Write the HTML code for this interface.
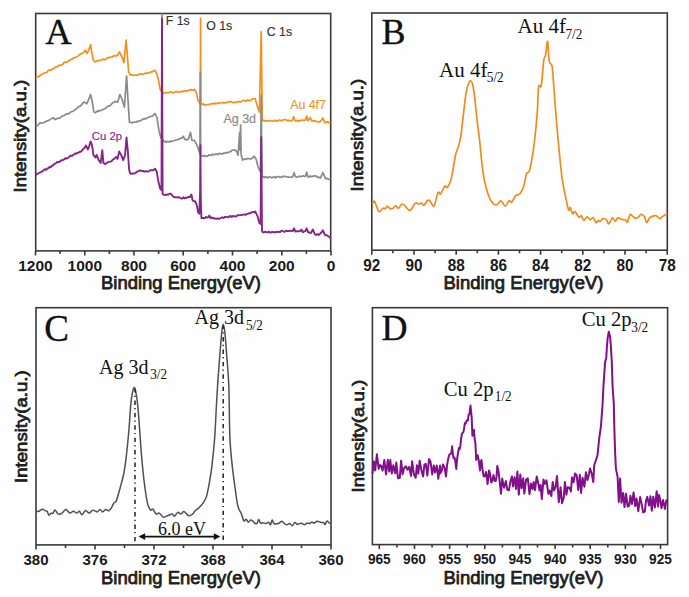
<!DOCTYPE html>
<html><head><meta charset="utf-8"><style>html,body{margin:0;padding:0;background:#fefefe;overflow:hidden}svg{display:block}</style></head><body>
<svg width="689" height="597" viewBox="0 0 689 597">
<rect width="689" height="597" fill="#fefefe"/>
<g fill="none" stroke="#3a3a3a" stroke-width="1.6">
<rect x="35.7" y="13.5" width="295" height="237.4"/>
<rect x="371.8" y="13" width="295.5" height="237.2"/>
<rect x="36" y="307.7" width="295" height="237.2"/>
<rect x="372.4" y="307.7" width="295.2" height="236.9"/>
<path d="M35.5 250.9V255.4M84.8 250.9V255.4M134.0 250.9V255.4M183.2 250.9V255.4M232.5 250.9V255.4M281.8 250.9V255.4M331.0 250.9V255.4M60.1 250.9V253.9M109.4 250.9V253.9M158.6 250.9V253.9M207.9 250.9V253.9M257.1 250.9V253.9M306.4 250.9V253.9M371.8 250.2V254.7M414.0 250.2V254.7M456.2 250.2V254.7M498.4 250.2V254.7M540.6 250.2V254.7M582.8 250.2V254.7M625.0 250.2V254.7M667.2 250.2V254.7M392.9 250.2V253.2M435.1 250.2V253.2M477.3 250.2V253.2M519.5 250.2V253.2M561.7 250.2V253.2M603.9 250.2V253.2M646.1 250.2V253.2M36.0 544.9V549.4M95.0 544.9V549.4M154.0 544.9V549.4M213.0 544.9V549.4M272.0 544.9V549.4M331.0 544.9V549.4M65.5 544.9V547.9M124.5 544.9V547.9M183.5 544.9V547.9M242.5 544.9V547.9M301.5 544.9V547.9M379.3 544.6V549.1M414.5 544.6V549.1M449.6 544.6V549.1M484.8 544.6V549.1M519.9 544.6V549.1M555.1 544.6V549.1M590.2 544.6V549.1M625.4 544.6V549.1M660.5 544.6V549.1M396.9 544.6V547.6M432.1 544.6V547.6M467.2 544.6V547.6M502.4 544.6V547.6M537.5 544.6V547.6M572.7 544.6V547.6M607.8 544.6V547.6M643.0 544.6V547.6"/>
</g>
<defs><clipPath id="cA"><rect x="35.7" y="13.5" width="295" height="237.4"/></clipPath></defs>
<g fill="none" stroke-linejoin="round" stroke-linecap="round">
<g clip-path="url(#cA)">
<polyline points="35.8,77.7 37.1,76.5 38.3,76.8 39.6,76.0 40.9,74.6 42.1,74.3 43.4,73.6 44.6,72.9 45.8,72.6 47.0,72.2 48.2,70.6 49.4,69.9 50.6,70.5 51.8,69.4 53.0,68.7 54.2,68.6 55.4,66.9 56.5,66.9 57.7,66.7 58.9,65.4 60.1,65.2 61.3,65.2 62.5,64.6 63.7,62.7 64.9,62.1 66.1,62.3 67.3,62.2 68.5,61.0 69.7,60.2 70.9,59.4 72.1,59.1 73.3,57.9 74.5,57.6 75.7,57.3 76.9,56.8 78.0,56.1 79.1,55.0 80.2,54.3 81.4,53.6 82.5,53.2 83.6,52.6 85.3,50.1 86.9,53.5 88.6,50.1 90.6,44.7 92.0,53.5 93.3,60.0 95.0,61.9 96.3,61.2 97.5,60.4 98.8,61.1 100.1,60.2 101.2,60.0 102.3,59.8 103.4,58.9 104.6,59.8 105.7,59.3 106.8,58.5 107.9,57.6 109.0,57.4 110.2,57.6 111.3,57.1 112.4,57.0 113.5,56.0 114.9,55.6 116.3,55.9 117.7,55.2 119.4,51.8 120.7,54.5 121.9,56.8 123.9,62.7 126.1,40.1 127.2,53.5 128.6,71.9 130.3,75.0 131.6,74.7 132.8,75.1 134.1,75.5 135.3,75.0 136.5,75.3 137.6,74.7 138.8,74.7 139.9,73.8 141.1,73.9 142.2,74.6 143.4,74.0 144.6,73.6 145.8,72.9 147.0,73.2 148.2,73.1 149.4,72.7 150.6,72.0 151.8,71.9 153.4,71.0 155.1,70.3 156.8,73.6 158.5,80.3 160.2,89.6 161.4,91.3 162.7,92.9 163.9,93.2 165.1,92.8 166.2,92.6 167.4,92.7 168.6,92.7 169.7,91.9 170.8,91.8 171.9,92.7 173.0,92.9 174.1,92.3 175.2,91.9 176.3,91.5 177.4,91.8 178.5,92.4 179.6,92.0 180.7,91.6 181.8,91.4 183.0,91.7 184.1,90.7 185.3,90.9 186.4,91.3 187.6,90.6 188.7,90.2 189.9,90.1 191.1,89.6 192.2,89.8 193.3,90.2 194.5,89.4 196.6,93.4 197.9,100.1 199.2,102.1 200.3,104.0 200.6,18.4 200.9,104.0 201.8,104.5 203.0,103.7 204.2,104.8 205.4,104.7 206.5,104.8 207.7,104.5 208.9,104.5 210.1,104.0 211.2,103.9 212.3,103.9 213.5,103.6 214.6,103.0 215.7,104.0 216.8,103.5 217.9,102.8 219.1,103.2 220.2,103.0 221.3,102.7 222.4,102.6 223.5,102.8 224.7,102.8 225.8,102.7 226.9,102.4 228.0,102.3 229.1,101.6 230.2,101.9 231.3,101.7 232.4,102.2 233.5,102.6 234.6,102.4 235.7,102.4 236.8,101.9 237.9,102.2 239.0,101.3 240.2,102.0 241.3,101.6 242.4,100.7 243.5,100.5 244.6,100.3 245.7,101.3 246.8,100.4 248.0,100.1 249.1,100.7 250.2,100.4 251.4,99.8 252.7,98.9 253.9,98.6 255.2,98.7 256.4,102.9 257.7,107.1 259.4,112.1 261.2,31.7 262.3,120.8 263.4,120.4 264.5,120.6 265.6,121.2 266.7,120.9 267.9,120.8 269.0,121.0 270.1,120.4 271.2,121.0 272.3,121.0 273.4,121.2 274.6,120.6 275.8,120.4 276.9,121.3 278.1,120.7 279.3,120.1 280.4,120.5 281.6,120.7 282.8,120.1 284.0,119.5 285.1,119.6 286.3,119.9 287.5,120.8 288.6,120.1 289.8,120.9 290.9,121.0 292.1,120.8 293.7,116.7 295.1,120.8 296.3,120.8 297.4,120.3 298.6,121.2 299.7,120.9 300.9,120.4 302.0,119.9 303.2,120.5 304.3,120.0 305.5,120.1 306.6,116.1 307.9,120.8 309.0,119.2 310.2,117.4 311.6,120.8 312.8,120.7 313.9,121.3 315.1,120.6 316.2,121.4 317.5,121.5 318.9,122.1 320.2,121.4 321.6,120.0 322.9,118.1 325.0,122.8 326.4,122.1 327.9,121.9 329.1,122.8 330.3,122.7" stroke="#F5901C" stroke-width="1.7"/>
<polyline points="35.8,125.5 37.0,125.6 38.2,125.1 39.3,123.4 40.5,122.9 41.7,123.0 42.8,123.1 43.9,122.5 45.0,122.0 46.2,121.1 47.3,121.1 48.4,120.5 49.8,119.8 51.2,118.9 52.6,117.9 53.9,118.3 55.1,119.6 56.2,119.0 57.3,118.4 58.5,118.3 59.6,118.1 60.7,117.5 61.8,116.3 62.9,115.9 64.0,115.4 65.2,114.7 66.3,114.0 67.4,113.6 68.5,113.8 69.6,113.1 70.7,112.1 71.8,111.5 73.0,111.5 74.1,110.3 75.2,109.6 76.5,108.8 77.7,107.5 79.0,106.4 80.2,106.2 81.6,104.6 83.0,102.9 84.4,102.0 85.7,102.9 86.9,103.7 88.9,98.7 90.6,94.5 92.3,102.0 93.6,110.4 94.2,112.2 95.4,112.6 96.6,111.8 97.7,110.7 98.9,111.4 100.1,110.5 101.2,110.4 102.3,109.7 103.4,109.4 104.6,108.7 105.7,108.2 106.8,107.2 108.0,106.1 109.3,106.2 110.5,105.3 111.8,103.8 112.9,102.5 114.1,102.5 115.2,101.3 116.5,102.0 117.7,102.1 118.8,98.3 119.9,94.6 121.9,98.8 123.2,103.0 124.4,107.2 126.6,76.1 127.8,97.1 129.4,122.3 130.8,122.3 132.2,122.9 133.6,122.3 134.9,122.0 136.2,122.1 137.4,121.1 138.7,121.5 140.0,120.6 141.1,120.6 142.3,119.4 143.4,118.9 144.6,118.6 145.8,118.8 147.0,118.1 148.2,117.5 149.4,116.7 150.6,116.5 151.8,116.4 153.4,115.2 155.1,113.5 157.0,117.5 159.0,130.9 161.0,138.3 161.8,138.5 162.0,10.0 162.2,139.0 163.7,141.7 164.9,141.2 166.1,142.3 167.2,141.4 168.4,141.7 169.5,142.0 170.6,141.0 171.8,141.6 172.9,141.1 174.0,140.5 175.1,140.3 176.2,140.0 177.3,139.8 178.4,139.4 179.6,138.7 180.7,138.2 181.8,138.3 183.2,136.3 185.2,139.7 186.3,139.5 187.4,139.8 188.5,139.0 190.5,132.3 191.9,140.3 193.2,140.5 194.5,140.3 196.6,144.3 198.6,149.7 199.9,153.7 200.3,72.0 200.7,156.0 202.6,156.2 203.9,155.4 205.1,156.3 206.4,156.0 207.7,156.1 208.9,154.9 210.2,155.2 211.4,155.4 212.6,154.2 213.9,154.9 215.1,154.2 216.3,153.9 217.6,154.7 218.8,153.4 220.0,153.8 221.2,153.7 222.5,154.0 223.8,153.0 225.0,153.2 226.2,152.4 227.5,153.0 228.8,152.0 230.0,151.7 231.1,151.5 232.2,150.0 233.4,150.0 234.5,149.7 236.6,151.2 238.1,155.2 239.6,132.6 240.1,150.0 240.6,125.0 241.1,154.2 242.6,160.2 243.8,159.2 245.1,159.2 246.4,159.3 247.8,158.3 249.1,158.7 250.6,159.1 252.1,158.2 254.1,156.2 256.2,159.2 257.7,165.3 259.0,169.3 260.5,172.0 261.2,95.4 262.0,177.4 263.1,176.7 264.3,177.7 265.4,176.7 266.6,177.1 267.7,177.8 268.8,176.9 270.0,177.0 271.1,177.7 272.3,177.2 273.4,177.4 274.5,176.7 275.6,178.0 276.8,176.7 277.9,176.5 279.0,176.9 280.1,177.2 281.2,177.3 282.3,176.4 283.4,176.6 284.6,176.2 285.7,176.7 286.8,176.7 288.0,177.1 289.2,177.0 290.4,177.3 291.6,177.1 292.8,176.7 294.1,172.7 295.5,176.7 296.6,177.2 297.7,176.9 298.8,176.5 299.9,176.1 301.1,176.7 302.2,176.2 303.3,175.8 304.4,176.3 305.5,176.3 306.6,172.1 307.9,176.7 309.1,177.1 310.3,176.0 311.5,176.6 312.6,176.2 313.8,176.3 315.0,175.7 316.2,176.1 317.6,177.4 318.9,177.1 320.3,178.1 321.6,175.5 322.9,172.7 324.2,175.6 325.6,178.7 327.0,178.4 328.3,179.4 330.3,178.7" stroke="#8a8a8a" stroke-width="1.7"/>
<polyline points="35.7,174.9 36.9,173.9 38.1,173.6 39.3,172.7 40.5,172.4 41.7,171.6 42.8,171.2 43.9,169.9 45.0,169.2 46.2,169.8 47.3,168.4 48.4,168.2 49.5,167.0 50.6,167.3 51.8,165.8 52.9,165.5 54.0,164.3 55.1,163.5 56.2,163.1 57.3,161.9 58.5,162.0 59.6,161.8 60.7,160.8 61.8,160.2 62.9,160.1 64.0,159.5 65.2,158.2 66.3,158.8 67.4,158.1 68.5,157.5 69.6,156.6 70.7,155.5 71.8,156.0 73.0,154.8 74.1,154.5 75.2,153.5 76.3,153.6 77.4,152.9 78.6,152.7 79.7,151.6 80.8,151.7 81.9,150.8 83.2,148.9 84.6,147.8 85.9,145.4 87.9,149.5 89.2,146.0 90.6,141.4 91.3,142.8 92.3,146.8 93.4,154.9 95.4,157.5 96.7,154.9 98.7,160.2 100.7,162.9 102.3,150.2 103.4,162.9 105.4,164.2 106.6,163.0 107.8,162.4 108.9,161.9 110.1,161.6 111.4,161.4 112.8,159.7 114.1,158.9 116.1,156.9 117.5,158.9 119.2,151.5 121.1,154.9 123.2,160.2 125.1,154.9 126.5,137.4 127.8,150.8 129.1,169.6 130.2,173.6 131.5,173.8 132.9,173.3 134.2,173.6 135.4,173.0 136.5,172.1 137.7,171.4 138.8,171.1 140.0,170.3 141.1,170.6 142.2,171.2 143.3,171.0 144.5,171.5 145.6,171.5 146.7,171.2 148.0,171.7 149.2,171.0 150.5,170.1 151.8,170.3 153.4,170.0 155.1,168.7 156.8,172.0 158.5,182.1 160.2,188.8 161.5,190.0 162.0,18.8 162.6,193.8 163.9,194.9 165.2,194.7 166.4,195.1 167.6,194.4 168.7,194.5 169.9,193.6 171.1,193.8 172.8,196.3 174.1,197.2 175.3,197.2 176.5,197.5 177.7,197.2 178.8,197.1 180.0,197.9 181.1,198.4 182.2,198.6 183.3,197.3 184.5,198.3 185.6,197.8 186.7,197.9 187.8,197.1 188.9,197.0 190.0,197.0 191.4,194.5 192.6,200.4 193.8,201.2 195.1,201.2 196.8,205.4 198.1,212.1 199.3,213.8 200.1,192.0 200.4,145.1 200.8,200.0 201.4,218.0 203.5,218.0 204.8,218.3 206.0,216.9 207.2,217.5 208.5,217.1 209.3,215.5 210.5,218.0 211.7,217.4 212.9,218.4 214.1,217.9 215.2,218.7 216.4,218.9 217.6,218.3 218.8,219.0 220.0,218.4 221.2,217.9 222.3,217.4 223.5,218.0 224.7,217.0 225.9,217.0 227.1,217.1 228.2,217.2 229.4,216.4 230.6,216.0 231.8,217.0 232.9,216.0 234.1,216.1 235.3,216.5 236.4,216.3 237.6,215.3 238.8,215.2 239.9,215.1 241.1,215.1 242.3,214.8 243.4,214.6 244.6,214.5 245.8,214.7 246.9,213.9 248.1,213.7 249.3,213.2 250.5,213.2 251.6,212.2 252.8,211.9 254.0,212.5 255.2,211.4 256.4,213.8 257.5,216.1 259.4,223.1 260.6,224.0 261.2,137.1 262.0,231.0 262.7,232.3 263.9,232.4 265.1,231.6 266.3,232.2 267.5,232.4 268.6,231.6 269.8,232.5 271.0,232.5 272.2,231.7 273.4,232.3 274.5,232.4 275.6,232.0 276.8,232.2 277.9,231.7 279.0,232.0 280.1,232.0 281.2,230.9 282.3,230.8 283.4,231.6 284.6,231.9 285.7,230.8 286.8,231.0 288.0,230.9 289.2,231.1 290.4,230.7 291.6,230.8 292.8,231.0 294.1,228.3 295.5,231.6 296.7,231.2 297.9,231.1 299.0,231.3 300.2,231.0 301.5,229.6 302.9,232.3 304.2,231.4 305.5,231.0 306.6,228.3 308.2,232.3 309.5,232.5 310.9,233.0 312.9,229.6 314.9,234.3 316.2,234.9 317.6,234.1 318.9,235.0 320.2,233.5 321.6,232.2 322.9,230.3 325.0,235.0 326.1,235.2 327.2,235.5 328.3,236.3 330.3,237.7" stroke="#86258a" stroke-width="1.9"/>
</g>
<path d="M372.60,203.50C372.90,203.13 373.75,200.87 374.40,201.30C375.05,201.73 375.72,204.35 376.50,206.10C377.28,207.85 378.00,211.43 379.10,211.80C380.20,212.17 382.08,208.82 383.10,208.30C384.12,207.78 384.48,209.07 385.20,208.70C385.92,208.33 386.60,206.10 387.40,206.10C388.20,206.10 389.05,208.33 390.00,208.70C390.95,209.07 392.15,208.80 393.10,208.30C394.05,207.80 394.83,205.70 395.70,205.70C396.57,205.70 397.22,208.58 398.30,208.30C399.38,208.02 400.97,204.28 402.20,204.00C403.43,203.72 404.38,205.52 405.70,206.60C407.02,207.68 408.50,211.08 410.10,210.50C411.70,209.92 413.85,204.18 415.30,203.10C416.75,202.02 417.78,204.00 418.80,204.00C419.82,204.00 420.53,202.88 421.40,203.10C422.27,203.32 422.98,205.73 424.00,205.30C425.02,204.87 426.50,201.25 427.50,200.50C428.50,199.75 428.92,199.87 430.00,200.80C431.08,201.73 432.67,207.45 434.00,206.10C435.33,204.75 436.88,194.72 438.00,192.70C439.12,190.68 439.58,195.12 440.70,194.00C441.82,192.88 443.58,187.12 444.70,186.00C445.82,184.88 446.28,188.63 447.40,187.30C448.52,185.97 450.05,183.35 451.40,178.00C452.75,172.65 454.37,160.35 455.50,155.20C456.63,150.05 457.32,150.23 458.20,147.10C459.08,143.97 459.92,141.98 460.80,136.40C461.68,130.82 462.60,120.97 463.50,113.60C464.40,106.23 465.30,97.33 466.20,92.20C467.10,87.07 468.13,84.68 468.90,82.80C469.67,80.92 470.13,80.45 470.80,80.90C471.47,81.35 472.20,82.28 472.90,85.50C473.60,88.72 474.33,94.62 475.00,100.20C475.67,105.78 476.13,112.30 476.90,119.00C477.67,125.70 478.70,132.37 479.60,140.40C480.50,148.43 481.40,160.05 482.30,167.20C483.20,174.35 483.88,178.38 485.00,183.30C486.12,188.22 487.67,193.35 489.00,196.70C490.33,200.05 491.67,202.05 493.00,203.40C494.33,204.75 495.67,205.23 497.00,204.80C498.33,204.37 499.65,200.58 501.00,200.80C502.35,201.02 503.75,206.10 505.10,206.10C506.45,206.10 507.98,201.47 509.10,200.80C510.22,200.13 510.68,203.00 511.80,202.10C512.92,201.20 514.47,196.75 515.80,195.40C517.13,194.05 518.47,195.57 519.80,194.00C521.13,192.43 522.68,189.35 523.80,186.00C524.92,182.65 525.60,176.35 526.50,173.90C527.40,171.45 528.30,173.75 529.20,171.30C530.10,168.85 531.00,164.35 531.90,159.20C532.80,154.05 533.72,148.00 534.60,140.40C535.48,132.80 536.53,122.53 537.20,113.60C537.87,104.67 537.92,91.48 538.60,86.80C539.28,82.12 540.43,89.93 541.30,85.50C542.17,81.07 543.08,65.27 543.80,60.20C544.52,55.13 544.97,58.25 545.60,55.10C546.23,51.95 546.98,40.25 547.60,41.30C548.22,42.35 548.55,57.22 549.30,61.40C550.05,65.58 551.33,62.00 552.10,66.40C552.87,70.80 553.18,78.78 553.90,87.80C554.62,96.82 555.57,110.45 556.40,120.50C557.23,130.55 557.97,138.58 558.90,148.10C559.83,157.62 560.98,169.95 562.00,177.60C563.02,185.25 563.92,188.63 565.00,194.00C566.08,199.37 567.63,207.55 568.50,209.80C569.37,212.05 569.52,206.82 570.20,207.50C570.88,208.18 571.82,213.22 572.60,213.90C573.38,214.58 573.83,211.02 574.90,211.60C575.97,212.18 577.92,216.72 579.00,217.40C580.08,218.08 580.62,215.20 581.40,215.70C582.18,216.20 582.73,220.20 583.70,220.40C584.67,220.60 586.12,217.00 587.20,216.90C588.28,216.80 589.22,219.72 590.20,219.80C591.18,219.88 592.13,216.92 593.10,217.40C594.07,217.88 595.12,222.20 596.00,222.70C596.88,223.20 597.72,220.60 598.40,220.40C599.08,220.20 599.32,221.80 600.10,221.50C600.88,221.20 602.02,218.88 603.10,218.60C604.18,218.32 605.67,218.92 606.60,219.80C607.53,220.68 607.70,224.22 608.70,223.90C609.70,223.58 611.52,218.32 612.60,217.90C613.68,217.48 614.33,221.40 615.20,221.40C616.07,221.40 616.63,218.20 617.80,217.90C618.97,217.60 620.88,219.25 622.20,219.60C623.52,219.95 624.83,219.57 625.70,220.00C626.57,220.43 626.68,223.07 627.40,222.20C628.12,221.33 629.13,215.82 630.00,214.80C630.87,213.78 631.72,215.52 632.60,216.10C633.48,216.68 634.35,218.08 635.30,218.30C636.25,218.52 637.37,218.05 638.30,217.40C639.23,216.75 639.88,214.53 640.90,214.40C641.92,214.27 643.45,215.22 644.40,216.60C645.35,217.98 645.80,222.42 646.60,222.70C647.40,222.98 648.18,219.40 649.20,218.30C650.22,217.20 651.53,216.53 652.70,216.10C653.87,215.67 655.03,215.27 656.20,215.70C657.37,216.13 658.68,218.55 659.70,218.70C660.72,218.85 661.15,217.38 662.30,216.60C663.45,215.82 665.88,214.43 666.60,214.00" stroke="#F08C1E" stroke-width="1.7"/>
<path d="M36.70,511.30C37.07,511.30 37.95,511.65 38.90,511.30C39.85,510.95 41.30,509.27 42.40,509.20C43.50,509.13 44.70,510.55 45.50,510.90C46.30,511.25 46.63,510.57 47.20,511.30C47.77,512.03 48.25,515.00 48.90,515.30C49.55,515.60 50.43,513.40 51.10,513.10C51.77,512.80 52.25,514.02 52.90,513.50C53.55,512.98 54.13,509.92 55.00,510.00C55.87,510.08 57.15,513.33 58.10,514.00C59.05,514.67 59.90,514.30 60.70,514.00C61.50,513.70 62.03,512.93 62.90,512.20C63.77,511.47 64.75,509.45 65.90,509.60C67.05,509.75 68.57,512.82 69.80,513.10C71.03,513.38 72.13,511.30 73.30,511.30C74.47,511.30 75.78,513.10 76.80,513.10C77.82,513.10 78.53,511.02 79.40,511.30C80.27,511.58 80.98,514.95 82.00,514.80C83.02,514.65 84.33,510.68 85.50,510.40C86.67,510.12 87.83,513.10 89.00,513.10C90.17,513.10 91.50,510.77 92.50,510.40C93.50,510.03 94.17,510.65 95.00,510.90C95.83,511.15 96.67,512.15 97.50,511.90C98.33,511.65 99.17,509.40 100.00,509.40C100.83,509.40 101.57,511.90 102.50,511.90C103.43,511.90 104.55,509.60 105.60,509.40C106.65,509.20 107.85,510.92 108.80,510.70C109.75,510.48 110.47,509.37 111.30,508.10C112.13,506.83 112.95,504.35 113.80,503.10C114.65,501.85 115.35,503.12 116.40,500.60C117.45,498.08 118.85,492.60 120.10,488.00C121.35,483.40 122.85,478.43 123.90,473.00C124.95,467.57 125.57,462.52 126.40,455.40C127.23,448.28 128.18,438.68 128.90,430.30C129.62,421.92 130.15,411.18 130.70,405.10C131.25,399.02 131.65,396.73 132.20,393.80C132.75,390.87 133.42,387.92 134.00,387.50C134.58,387.08 135.08,388.37 135.70,391.30C136.32,394.23 137.03,398.60 137.70,405.10C138.37,411.60 139.07,421.92 139.70,430.30C140.33,438.68 140.78,447.03 141.50,455.40C142.22,463.77 143.17,473.38 144.00,480.50C144.83,487.62 145.83,494.02 146.50,498.10C147.17,502.18 147.33,503.02 148.00,505.00C148.67,506.98 149.68,509.30 150.50,510.00C151.32,510.70 151.97,508.53 152.90,509.20C153.83,509.87 155.03,513.35 156.10,514.00C157.17,514.65 158.10,512.58 159.30,513.10C160.50,513.62 161.83,516.70 163.30,517.10C164.77,517.50 166.63,516.03 168.10,515.50C169.57,514.97 171.03,513.77 172.10,513.90C173.17,514.03 173.57,516.55 174.50,516.30C175.43,516.05 176.63,512.80 177.70,512.40C178.77,512.00 179.83,514.03 180.90,513.90C181.97,513.77 182.90,511.33 184.10,511.60C185.30,511.87 186.78,514.98 188.10,515.50C189.42,516.02 190.82,515.48 192.00,514.70C193.18,513.92 194.00,511.98 195.20,510.80C196.40,509.62 197.78,509.05 199.20,507.60C200.62,506.15 202.50,503.93 203.70,502.10C204.90,500.27 205.48,499.67 206.40,496.60C207.32,493.53 208.27,488.92 209.20,483.70C210.13,478.48 211.08,472.98 212.00,465.30C212.92,457.62 214.00,446.82 214.70,437.60C215.40,428.38 215.72,418.70 216.20,410.00C216.68,401.30 217.02,394.25 217.60,385.40C218.18,376.55 219.00,365.83 219.70,356.90C220.40,347.97 221.23,337.25 221.80,331.80C222.37,326.35 222.60,324.20 223.10,324.20C223.60,324.20 224.18,326.35 224.80,331.80C225.42,337.25 226.13,347.97 226.80,356.90C227.47,365.83 228.28,371.95 228.80,385.40C229.32,398.85 229.33,424.28 229.90,437.60C230.47,450.92 231.35,457.00 232.20,465.30C233.05,473.60 234.07,480.65 235.00,487.40C235.93,494.15 236.72,501.35 237.80,505.80C238.88,510.25 240.48,511.58 241.50,514.10C242.52,516.62 243.13,520.05 243.90,520.90C244.67,521.75 245.37,518.98 246.10,519.20C246.83,519.42 247.57,522.07 248.30,522.20C249.03,522.33 249.78,520.22 250.50,520.00C251.22,519.78 251.82,520.32 252.60,520.90C253.38,521.48 254.47,523.07 255.20,523.50C255.93,523.93 256.42,524.15 257.00,523.50C257.58,522.85 258.12,519.67 258.70,519.60C259.28,519.53 259.85,522.57 260.50,523.10C261.15,523.63 261.67,522.73 262.60,522.80C263.53,522.87 265.08,523.60 266.10,523.50C267.12,523.40 267.97,521.98 268.70,522.20C269.43,522.42 269.92,525.17 270.50,524.80C271.08,524.43 271.62,520.22 272.20,520.00C272.78,519.78 272.98,522.92 274.00,523.50C275.02,524.08 277.00,523.87 278.30,523.50C279.60,523.13 280.78,521.30 281.80,521.30C282.82,521.30 283.53,522.92 284.40,523.50C285.27,524.08 286.12,524.80 287.00,524.80C287.88,524.80 288.82,523.35 289.70,523.50C290.58,523.65 291.43,525.85 292.30,525.70C293.17,525.55 294.07,522.80 294.90,522.60C295.73,522.40 296.52,524.35 297.30,524.50C298.08,524.65 298.90,523.72 299.60,523.50C300.30,523.28 300.68,522.98 301.50,523.20C302.32,523.42 303.62,524.80 304.50,524.80C305.38,524.80 305.88,523.42 306.80,523.20C307.72,522.98 309.13,523.72 310.00,523.50C310.87,523.28 311.35,521.95 312.00,521.90C312.65,521.85 313.03,523.32 313.90,523.20C314.77,523.08 316.00,521.32 317.20,521.20C318.40,521.08 320.02,522.28 321.10,522.50C322.18,522.72 323.05,522.17 323.70,522.50C324.35,522.83 324.45,524.77 325.00,524.50C325.55,524.23 326.33,521.17 327.00,520.90C327.67,520.63 328.35,522.52 329.00,522.90C329.65,523.28 330.58,523.15 330.90,523.20" stroke="#505050" stroke-width="1.5"/>
<polyline points="372.6,472.8 373.9,461.4 375.2,470.4 376.9,454.3 378.7,468.8 379.9,465.0 381.1,465.9 382.6,470.6 384.3,459.9 386.0,474.5 387.8,459.8 389.2,471.5 390.3,460.1 391.8,473.5 393.3,465.3 395.2,473.2 396.3,462.6 398.0,478.3 399.8,477.8 401.1,460.7 402.6,474.2 404.0,468.3 405.9,466.3 407.5,469.7 409.2,466.9 411.0,476.0 412.1,461.2 413.9,474.5 415.7,477.7 416.9,465.2 418.3,473.7 419.7,460.7 421.4,470.3 423.1,476.5 424.4,464.6 425.8,463.9 427.4,475.5 429.0,459.0 430.4,461.2 432.2,474.4 433.8,465.4 435.1,472.5 436.8,465.5 438.3,478.8 440.0,465.6 440.0,473.4 441.5,471.5 443.0,464.4 444.5,467.6 446.0,476.4 447.1,464.9 448.3,458.3 449.5,454.4 450.6,453.8 451.4,452.9 452.1,446.3 452.9,454.6 453.6,458.3 454.4,457.6 455.1,459.9 456.3,468.9 457.2,458.5 458.1,452.3 458.9,447.9 459.6,449.3 460.4,445.7 461.1,438.7 461.9,434.0 462.6,432.7 463.4,432.1 464.1,428.2 464.9,423.0 465.6,423.7 466.8,420.3 467.9,420.6 468.6,414.7 469.4,414.6 470.5,405.6 471.7,417.6 472.4,435.7 473.1,429.9 473.9,429.7 474.6,438.5 475.4,443.3 476.2,459.9 476.9,455.3 477.7,455.3 478.9,461.1 480.0,470.4 480.8,462.2 481.5,459.9 482.6,470.1 483.7,476.4 484.9,476.3 486.0,471.9 486.8,476.1 487.5,484.0 488.2,479.2 489.0,470.4 490.1,474.1 491.3,482.5 492.4,480.3 493.5,474.9 494.6,480.7 495.8,481.0 496.6,476.0 497.3,465.9 498.5,471.2 499.6,481.0 501.0,493.7 502.2,478.6 504.1,487.7 505.9,481.1 507.3,489.7 509.0,490.2 510.3,482.1 511.9,476.4 513.0,486.5 514.6,477.3 516.0,488.9 517.4,471.6 518.8,494.6 520.3,474.4 521.6,488.2 523.2,478.3 524.3,493.6 526.1,479.6 527.8,478.3 529.5,494.1 531.0,483.6 532.5,489.1 533.7,482.1 535.0,490.0 536.7,476.6 537.8,481.0 539.5,490.4 540.6,484.9 541.8,499.0 543.5,479.6 544.8,483.9 546.5,480.4 548.3,493.7 549.8,490.6 551.3,496.1 552.7,482.0 554.0,490.4 555.5,487.2 557.0,476.1 558.8,502.2 560.6,487.3 562.0,503.2 563.8,497.4 564.9,482.1 566.4,494.7 567.7,487.3 569.6,487.7 570.9,491.5 572.0,477.5 573.5,482.2 575.1,473.5 576.7,475.3 578.2,489.9 579.8,474.8 581.1,493.0 582.6,477.8 584.4,486.7 585.9,472.3 587.5,480.0 589.0,473.9 590.0,468.6 591.7,473.6 593.3,482.0 594.2,465.2 595.9,460.2 597.5,455.2 599.2,438.5 600.9,426.7 602.6,403.8 603.4,387.0 605.1,361.9 606.2,358.5 606.8,348.5 607.6,338.4 608.8,331.7 610.1,336.8 610.9,346.8 611.8,361.9 612.6,387.0 613.8,403.8 614.3,426.7 615.1,451.8 615.9,468.6 617.6,476.9 618.8,502.0 620.1,478.6 621.5,502.8 623.1,493.0 624.5,507.1 626.0,493.7 627.7,506.5 629.1,505.8 630.4,495.8 631.9,504.1 633.6,492.5 635.2,506.1 636.5,498.4 638.3,511.2 640.1,496.9 641.3,502.1 643.1,512.4 644.8,511.6 646.0,500.6 647.3,496.9 649.0,505.6 650.4,496.3 651.8,510.7 653.2,496.7 654.9,507.4 656.7,491.2 658.0,506.5 659.1,495.1 660.3,500.0 661.5,508.0 663.1,500.1 664.9,508.9 666.4,500.2" stroke="#82108a" stroke-width="2.0"/>
</g>
<g stroke="#222" stroke-width="1.5" stroke-dasharray="4.4 3.2 1.2 3.6"><path d="M135 389V543" stroke-dashoffset="0.9"/><path d="M223.2 326V543" stroke-dashoffset="1.3"/></g>
<g stroke="#111" stroke-width="1.8" fill="#111"><path d="M141 536.6H218"/><path d="M138.6 536.6l6.5 -3.3v6.6z" stroke="none"/><path d="M220.3 536.6l-6.5 -3.3v6.6z" stroke="none"/></g>
<text x="45.3" y="43.7" style="font-family:'Liberation Serif',serif;font-size:36.5px" fill="#111" stroke="#111" stroke-width="0.35">A</text>
<text x="381.6" y="44.4" style="font-family:'Liberation Serif',serif;font-size:36px" fill="#111" stroke="#111" stroke-width="0.35">B</text>
<text x="44.3" y="340.9" style="font-family:'Liberation Serif',serif;font-size:37px" fill="#111" stroke="#111" stroke-width="0.35">C</text>
<text x="381.4" y="340.4" style="font-family:'Liberation Serif',serif;font-size:36px" fill="#111" stroke="#111" stroke-width="0.35">D</text>
<text x="101" y="289.2" textLength="160" lengthAdjust="spacingAndGlyphs" style="font-family:'Liberation Sans',sans-serif;font-size:17.5px" fill="#1e1e1e" stroke="#1e1e1e" stroke-width="0.75">Binding Energy(eV)</text>
<text x="443.5" y="289" textLength="160" lengthAdjust="spacingAndGlyphs" style="font-family:'Liberation Sans',sans-serif;font-size:17.5px" fill="#1e1e1e" stroke="#1e1e1e" stroke-width="0.75">Binding Energy(eV)</text>
<text x="101" y="584" textLength="160" lengthAdjust="spacingAndGlyphs" style="font-family:'Liberation Sans',sans-serif;font-size:17.5px" fill="#1e1e1e" stroke="#1e1e1e" stroke-width="0.75">Binding Energy(eV)</text>
<text x="443.5" y="584" textLength="160" lengthAdjust="spacingAndGlyphs" style="font-family:'Liberation Sans',sans-serif;font-size:17.5px" fill="#1e1e1e" stroke="#1e1e1e" stroke-width="0.75">Binding Energy(eV)</text>
<text transform="translate(25.6,192.4) rotate(-90)" x="0" y="0" textLength="112.5" lengthAdjust="spacingAndGlyphs" style="font-family:'Liberation Sans',sans-serif;font-size:16.2px" fill="#1e1e1e" stroke="#1e1e1e" stroke-width="0.75">Intensity(a.u.)</text>
<text transform="translate(362.6,191.4) rotate(-90)" x="0" y="0" textLength="112.5" lengthAdjust="spacingAndGlyphs" style="font-family:'Liberation Sans',sans-serif;font-size:16.2px" fill="#1e1e1e" stroke="#1e1e1e" stroke-width="0.75">Intensity(a.u.)</text>
<text transform="translate(26.6,482.9) rotate(-90)" x="0" y="0" textLength="112.5" lengthAdjust="spacingAndGlyphs" style="font-family:'Liberation Sans',sans-serif;font-size:16.2px" fill="#1e1e1e" stroke="#1e1e1e" stroke-width="0.75">Intensity(a.u.)</text>
<text transform="translate(363.5,492.4) rotate(-90)" x="0" y="0" textLength="112.5" lengthAdjust="spacingAndGlyphs" style="font-family:'Liberation Sans',sans-serif;font-size:16.2px" fill="#1e1e1e" stroke="#1e1e1e" stroke-width="0.75">Intensity(a.u.)</text>
<text x="35.5" y="270.8" text-anchor="middle" style="font-family:'Liberation Sans',sans-serif;font-weight:bold;font-size:15.5px" fill="#1a1a1a">1200</text><text x="84.8" y="270.8" text-anchor="middle" style="font-family:'Liberation Sans',sans-serif;font-weight:bold;font-size:15.5px" fill="#1a1a1a">1000</text><text x="134.0" y="270.8" text-anchor="middle" style="font-family:'Liberation Sans',sans-serif;font-weight:bold;font-size:15.5px" fill="#1a1a1a">800</text><text x="183.2" y="270.8" text-anchor="middle" style="font-family:'Liberation Sans',sans-serif;font-weight:bold;font-size:15.5px" fill="#1a1a1a">600</text><text x="232.5" y="270.8" text-anchor="middle" style="font-family:'Liberation Sans',sans-serif;font-weight:bold;font-size:15.5px" fill="#1a1a1a">400</text><text x="281.8" y="270.8" text-anchor="middle" style="font-family:'Liberation Sans',sans-serif;font-weight:bold;font-size:15.5px" fill="#1a1a1a">200</text><text x="331.0" y="270.8" text-anchor="middle" style="font-family:'Liberation Sans',sans-serif;font-weight:bold;font-size:15.5px" fill="#1a1a1a">0</text>
<text x="371.8" y="270.5" text-anchor="middle" textLength="17.0" lengthAdjust="spacingAndGlyphs" style="font-family:'Liberation Sans',sans-serif;font-weight:bold;font-size:16px" fill="#1a1a1a">92</text><text x="414.0" y="270.5" text-anchor="middle" textLength="17.0" lengthAdjust="spacingAndGlyphs" style="font-family:'Liberation Sans',sans-serif;font-weight:bold;font-size:16px" fill="#1a1a1a">90</text><text x="456.2" y="270.5" text-anchor="middle" textLength="17.0" lengthAdjust="spacingAndGlyphs" style="font-family:'Liberation Sans',sans-serif;font-weight:bold;font-size:16px" fill="#1a1a1a">88</text><text x="498.4" y="270.5" text-anchor="middle" textLength="17.0" lengthAdjust="spacingAndGlyphs" style="font-family:'Liberation Sans',sans-serif;font-weight:bold;font-size:16px" fill="#1a1a1a">86</text><text x="540.6" y="270.5" text-anchor="middle" textLength="17.0" lengthAdjust="spacingAndGlyphs" style="font-family:'Liberation Sans',sans-serif;font-weight:bold;font-size:16px" fill="#1a1a1a">84</text><text x="582.8" y="270.5" text-anchor="middle" textLength="17.0" lengthAdjust="spacingAndGlyphs" style="font-family:'Liberation Sans',sans-serif;font-weight:bold;font-size:16px" fill="#1a1a1a">82</text><text x="625.0" y="270.5" text-anchor="middle" textLength="17.0" lengthAdjust="spacingAndGlyphs" style="font-family:'Liberation Sans',sans-serif;font-weight:bold;font-size:16px" fill="#1a1a1a">80</text><text x="667.2" y="270.5" text-anchor="middle" textLength="17.0" lengthAdjust="spacingAndGlyphs" style="font-family:'Liberation Sans',sans-serif;font-weight:bold;font-size:16px" fill="#1a1a1a">78</text>
<text x="36.0" y="565" text-anchor="middle" style="font-family:'Liberation Sans',sans-serif;font-weight:bold;font-size:15px" fill="#1a1a1a">380</text><text x="95.0" y="565" text-anchor="middle" style="font-family:'Liberation Sans',sans-serif;font-weight:bold;font-size:15px" fill="#1a1a1a">376</text><text x="154.0" y="565" text-anchor="middle" style="font-family:'Liberation Sans',sans-serif;font-weight:bold;font-size:15px" fill="#1a1a1a">372</text><text x="213.0" y="565" text-anchor="middle" style="font-family:'Liberation Sans',sans-serif;font-weight:bold;font-size:15px" fill="#1a1a1a">368</text><text x="272.0" y="565" text-anchor="middle" style="font-family:'Liberation Sans',sans-serif;font-weight:bold;font-size:15px" fill="#1a1a1a">364</text><text x="331.0" y="565" text-anchor="middle" style="font-family:'Liberation Sans',sans-serif;font-weight:bold;font-size:15px" fill="#1a1a1a">360</text>
<text x="379.3" y="563.7" text-anchor="middle" textLength="22.8" lengthAdjust="spacingAndGlyphs" style="font-family:'Liberation Sans',sans-serif;font-weight:bold;font-size:14.5px" fill="#1a1a1a">965</text><text x="414.5" y="563.7" text-anchor="middle" textLength="22.8" lengthAdjust="spacingAndGlyphs" style="font-family:'Liberation Sans',sans-serif;font-weight:bold;font-size:14.5px" fill="#1a1a1a">960</text><text x="449.6" y="563.7" text-anchor="middle" textLength="22.8" lengthAdjust="spacingAndGlyphs" style="font-family:'Liberation Sans',sans-serif;font-weight:bold;font-size:14.5px" fill="#1a1a1a">955</text><text x="484.8" y="563.7" text-anchor="middle" textLength="22.8" lengthAdjust="spacingAndGlyphs" style="font-family:'Liberation Sans',sans-serif;font-weight:bold;font-size:14.5px" fill="#1a1a1a">950</text><text x="519.9" y="563.7" text-anchor="middle" textLength="22.8" lengthAdjust="spacingAndGlyphs" style="font-family:'Liberation Sans',sans-serif;font-weight:bold;font-size:14.5px" fill="#1a1a1a">945</text><text x="555.1" y="563.7" text-anchor="middle" textLength="22.8" lengthAdjust="spacingAndGlyphs" style="font-family:'Liberation Sans',sans-serif;font-weight:bold;font-size:14.5px" fill="#1a1a1a">940</text><text x="590.2" y="563.7" text-anchor="middle" textLength="22.8" lengthAdjust="spacingAndGlyphs" style="font-family:'Liberation Sans',sans-serif;font-weight:bold;font-size:14.5px" fill="#1a1a1a">935</text><text x="625.4" y="563.7" text-anchor="middle" textLength="22.8" lengthAdjust="spacingAndGlyphs" style="font-family:'Liberation Sans',sans-serif;font-weight:bold;font-size:14.5px" fill="#1a1a1a">930</text><text x="660.5" y="563.7" text-anchor="middle" textLength="22.8" lengthAdjust="spacingAndGlyphs" style="font-family:'Liberation Sans',sans-serif;font-weight:bold;font-size:14.5px" fill="#1a1a1a">925</text>
<text x="439" y="76.5" style="font-family:'Liberation Serif',serif;font-size:21px" fill="#111">Au 4f</text><text x="486.8" y="82.1" textLength="16.9" lengthAdjust="spacingAndGlyphs" style="font-family:'Liberation Serif',serif;font-size:15px" fill="#111">5/2</text>
<text x="517.5" y="32.9" style="font-family:'Liberation Serif',serif;font-size:21px" fill="#111">Au 4f</text><text x="565.5" y="38.6" textLength="16.9" lengthAdjust="spacingAndGlyphs" style="font-family:'Liberation Serif',serif;font-size:15px" fill="#111">7/2</text>
<text x="99" y="373.5" style="font-family:'Liberation Serif',serif;font-size:20px" fill="#111">Ag 3d</text><text x="150.2" y="379" textLength="16.9" lengthAdjust="spacingAndGlyphs" style="font-family:'Liberation Serif',serif;font-size:15px" fill="#111">3/2</text>
<text x="194.5" y="323.9" style="font-family:'Liberation Serif',serif;font-size:20px" fill="#111">Ag 3d</text><text x="246" y="329.5" textLength="16.9" lengthAdjust="spacingAndGlyphs" style="font-family:'Liberation Serif',serif;font-size:15px" fill="#111">5/2</text>
<text x="443.8" y="395.9" style="font-family:'Liberation Serif',serif;font-size:20.6px" fill="#111">Cu 2p</text><text x="494.8" y="401.2" textLength="16.9" lengthAdjust="spacingAndGlyphs" style="font-family:'Liberation Serif',serif;font-size:15px" fill="#111">1/2</text>
<text x="581.8" y="325.9" style="font-family:'Liberation Serif',serif;font-size:20.6px" fill="#111">Cu 2p</text><text x="631.3" y="331.6" textLength="16.9" lengthAdjust="spacingAndGlyphs" style="font-family:'Liberation Serif',serif;font-size:15px" fill="#111">3/2</text>
<text x="158.1" y="535.4" style="font-family:'Liberation Serif',serif;font-size:18px" fill="#111">6.0 eV</text>
<text x="165.8" y="24.8" style="font-family:'Liberation Sans',sans-serif;font-size:12.3px" fill="#333" stroke="#333" stroke-width="0.15">F 1s</text>
<text x="206.3" y="29.5" style="font-family:'Liberation Sans',sans-serif;font-size:12.3px" fill="#333" stroke="#333" stroke-width="0.15">O 1s</text>
<text x="266.8" y="36.1" style="font-family:'Liberation Sans',sans-serif;font-size:12.3px" fill="#333" stroke="#333" stroke-width="0.15">C 1s</text>
<text x="290.2" y="109.4" style="font-family:'Liberation Sans',sans-serif;font-size:12.3px" fill="#F39224" stroke="#F39224" stroke-width="0.15">Au 4f7</text>
<text x="223.4" y="122.6" style="font-family:'Liberation Sans',sans-serif;font-size:12.5px" fill="#8c8c8c" stroke="#8c8c8c" stroke-width="0.2">Ag 3d</text>
<text x="91.8" y="140" style="font-family:'Liberation Sans',sans-serif;font-size:11.3px" fill="#86258a" stroke="#86258a" stroke-width="0.15">Cu 2p</text>
</svg>
</body></html>
